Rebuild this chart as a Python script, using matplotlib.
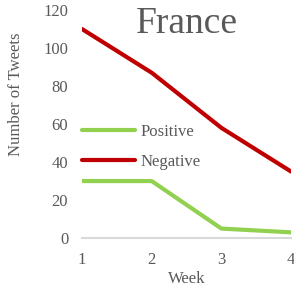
import matplotlib
matplotlib.use("Agg")
import matplotlib.pyplot as plt

weeks = [1, 2, 3, 4]
positive = [30, 30, 5, 3]
negative = [110, 87, 58, 35]
yticks = [0, 20, 40, 60, 80, 100, 120]

plt.rcParams['font.family'] = ['Liberation Serif', 'DejaVu Serif']

fig = plt.figure(figsize=(2.94, 2.95), dpi=100)
ax = fig.add_axes([0.279, 0.193, 0.711, 0.773])

ax.plot(weeks, positive, color='#92D050', lw=3, label='Positive', solid_capstyle='round')
ax.plot(weeks, negative, color='#C00000', lw=3, label='Negative', solid_capstyle='round')

ax.set_xlim(1, 4)
ax.set_ylim(0, 120)
ax.set_xticks(weeks)
ax.set_yticks(yticks)
ax.tick_params(length=0, labelsize=12, colors='#595959', pad=10)
ax.tick_params(axis='x', pad=10)
for s in ['top', 'right', 'left']:
    ax.spines[s].set_visible(False)
ax.spines['bottom'].set_color('#d9d9d9')
ax.spines['bottom'].set_linewidth(1.5)
ax.set_xlabel('Week', fontsize=12, color='#595959', labelpad=2)
fig.text(16 / 294, 1 - 94 / 295, 'Number of Tweets', rotation=90, fontsize=12,
         color='#595959', ha='center', va='center')
ax.text(0.50, 0.938, 'France', transform=ax.transAxes, fontsize=27, color='#595959',
        ha='center', va='center')

handles, labels = ax.get_legend_handles_labels()
ax.legend(handles, labels, loc='upper left', bbox_to_anchor=(0.0, 0.501), frameon=False,
          fontsize=12, labelcolor='#595959', handlelength=3.2, handletextpad=0.3,
          labelspacing=0.86, borderpad=0, borderaxespad=0)

fig.savefig('out.png', dpi=100)
